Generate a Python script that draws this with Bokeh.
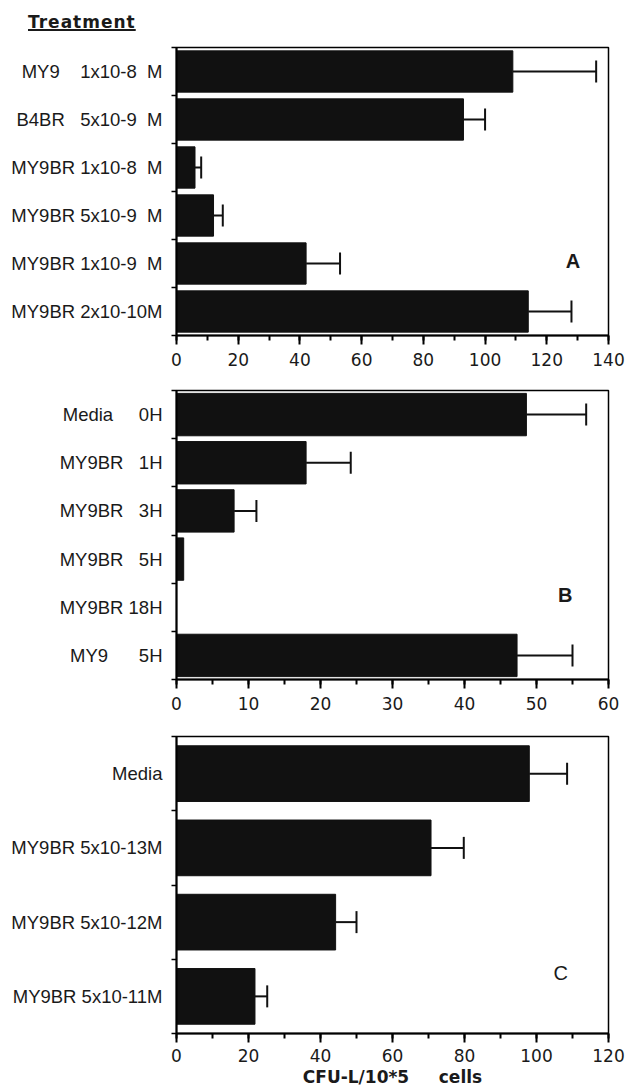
from bokeh.plotting import figure
from bokeh.models import Range1d, FixedTicker, Whisker, TeeHead, ColumnDataSource, Label, Div
from bokeh.layouts import column
from bokeh.embed import file_html
from bokeh.resources import INLINE

NB = "\u00a0"

def nb(s):
    return s.replace(" ", NB)

# ---------------- data ----------------
header_text = "Treatment"

labels_a = ["MY9    1x10-8  M", "B4BR   5x10-9  M", "MY9BR 1x10-8  M",
            "MY9BR 5x10-9  M", "MY9BR 1x10-9  M", "MY9BR 2x10-10M"]
values_a = [109, 93, 6, 12, 42, 114]
errors_a = [27, 7, 2, 3, 11, 14]

labels_b = ["Media     0H", "MY9BR   1H", "MY9BR   3H",
            "MY9BR   5H", "MY9BR 18H", "MY9      5H"]
values_b = [48.6, 18, 8, 1, 0, 47.3]
errors_b = [8.3, 6.2, 3.1, 0, 0, 7.7]

labels_c = ["Media", "MY9BR 5x10-13M", "MY9BR 5x10-12M", "MY9BR 5x10-11M"]
values_c = [98, 70.7, 44.2, 21.8]
errors_c = [10.5, 9.1, 5.8, 3.4]

x_label = "CFU-L/10*5     cells"
panel_letters = ["A", "B", "C"]

INK = "#111111"
TXT = "#1a1a1a"


def make_panel(labels, values, errors, xmax, major_step, minor_step, bar_h,
               height, b_top, b_bottom, letter, lx, ly, lbold, lsize,
               label_standoff, xlabel=None):
    n = len(labels)
    p = figure(width=628, height=height, output_backend="svg",
               toolbar_location=None,
               x_range=Range1d(0, xmax), y_range=Range1d(n, 0),
               min_border_left=176, min_border_right=20,
               min_border_top=b_top, min_border_bottom=b_bottom)
    p.background_fill_color = "white"
    p.border_fill_color = "white"
    p.outline_line_color = "black"
    p.outline_line_width = 1.5
    p.xgrid.visible = False
    p.ygrid.visible = False

    centers = [i + 0.5 for i in range(n)]
    src = ColumnDataSource(dict(y=centers, v=values))
    p.hbar(y="y", left=0, right="v", height=bar_h, source=src,
           fill_color=INK, line_color=INK, line_width=1)

    # error bars (only where an error exists)
    ey = [c for c, e in zip(centers, errors) if e > 0]
    ev = [v for v, e in zip(values, errors) if e > 0]
    eh = [v + e for v, e in zip(values, errors) if e > 0]
    esrc = ColumnDataSource(dict(y=ey, lo=ev, hi=eh))
    w = Whisker(source=esrc, base="y", lower="lo", upper="hi", dimension="width",
                line_color=INK, line_width=2,
                upper_head=TeeHead(size=22, line_width=2, line_color=INK),
                lower_head=None)
    p.add_layout(w)

    # x axis
    xa = p.xaxis[0]
    xa.ticker = FixedTicker(ticks=list(range(0, xmax + 1, major_step)),
                            minor_ticks=list(range(0, xmax + 1, minor_step)))
    xa.axis_line_width = 2
    xa.axis_line_color = "black"
    xa.major_tick_in = 0
    xa.major_tick_out = 9
    xa.minor_tick_in = 0
    xa.minor_tick_out = 5
    xa.major_tick_line_width = 2
    xa.minor_tick_line_width = 2
    xa.major_label_standoff = label_standoff
    xa.major_label_text_font = "DejaVu Sans"
    xa.major_label_text_font_size = "17px"
    xa.major_label_text_color = TXT
    if xlabel:
        xa.axis_label = nb(xlabel)
        xa.axis_label_standoff = 2
        xa.axis_label_text_font = "DejaVu Sans"
        xa.axis_label_text_font_style = "bold"
        xa.axis_label_text_font_size = "17px"
        xa.axis_label_text_color = TXT

    # y axis: labels at band centres, ticks at band boundaries
    ya = p.yaxis[0]
    ya.ticker = FixedTicker(ticks=centers, minor_ticks=list(range(0, n + 1)))
    ya.major_label_overrides = {c: nb(l) for c, l in zip(centers, labels)}
    ya.axis_line_width = 2
    ya.axis_line_color = "black"
    ya.major_tick_in = 0
    ya.major_tick_out = 0
    ya.minor_tick_in = 0
    ya.minor_tick_out = 5
    ya.minor_tick_line_width = 1.5
    ya.major_label_standoff = 9
    ya.major_label_text_font = "Liberation Sans"
    ya.major_label_text_font_size = "18.5px"
    ya.major_label_text_color = TXT

    p.add_layout(Label(x=lx, y=ly, text=letter, text_align="center",
                       text_baseline="middle", text_font="Liberation Sans",
                       text_font_size=lsize,
                       text_font_style="bold" if lbold else "normal",
                       text_color=TXT))
    return p


header = Div(text=(
    '<div style="padding:12px 0 0 28px;line-height:20px;">'
    '<span style="font-family:\'DejaVu Sans\';font-weight:bold;font-size:17px;'
    'letter-spacing:1px;text-decoration:underline;text-decoration-thickness:2px;'
    'color:#1a1a1a;">' + header_text + '</span></div>'),
    width=300, height=40, margin=(0, 0, 0, 0))

pa = make_panel(labels_a, values_a, errors_a, 140, 20, 10, 0.86,
                338, 7, 43, panel_letters[0], 128.5, 4.45, True, "20px", 8)
pb = make_panel(labels_b, values_b, errors_b, 60, 10, 5, 0.88,
                344, 12, 43, panel_letters[1], 54, 4.25, True, "20px", 8)
pc = make_panel(labels_c, values_c, errors_c, 120, 20, 10, 0.75,
                368, 14, 57, panel_letters[2], 106.7, 3.19, False, "20px", 6,
                xlabel=x_label)

layout = column(header, pa, pb, pc, spacing=0)

open("out.html", "w").write(file_html(layout, INLINE))
